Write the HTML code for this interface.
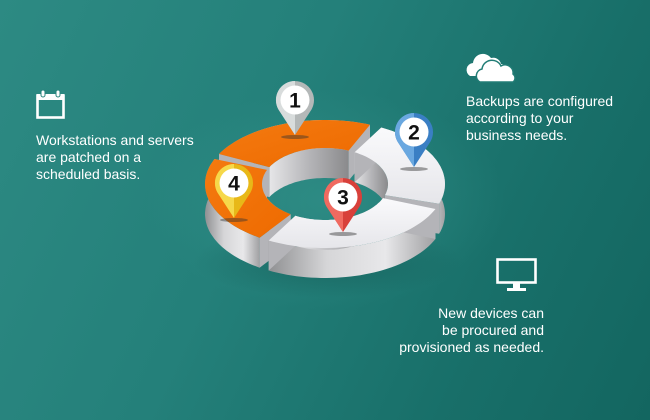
<!DOCTYPE html>
<html><head><meta charset="utf-8"><style>
html,body{margin:0;padding:0}
body{width:650px;height:420px;overflow:hidden;position:relative;font-family:"Liberation Sans",sans-serif;
background:linear-gradient(115deg,#2d8a83 0%,#24807a 40%,#186f69 75%,#136660 100%);}
.t{position:absolute;color:#fff;font-size:14px;line-height:17px;letter-spacing:0px}
svg{position:absolute;left:0;top:0}
</style></head><body>
<svg id="s" width="650" height="420" viewBox="0 0 650 420">
<defs>
<radialGradient id="glow" cx="0.5" cy="0.5" r="0.5"><stop offset="0" stop-color="#3a9a92" stop-opacity="0.5"/><stop offset="1" stop-color="#3a9a92" stop-opacity="0"/></radialGradient>
<radialGradient id="sh" cx="0.5" cy="0.5" r="0.5"><stop offset="0" stop-color="#0e4e4a" stop-opacity="0.5"/><stop offset="1" stop-color="#0e4e4a" stop-opacity="0"/></radialGradient>
<linearGradient id="wall" x1="0" y1="0" x2="1" y2="0"><stop offset="0" stop-color="#8f9092"/><stop offset="0.35" stop-color="#d6d6d8"/><stop offset="0.7" stop-color="#e8e8ea"/><stop offset="1" stop-color="#a0a0a2"/></linearGradient>
<linearGradient id="iwall" x1="0" y1="0" x2="1" y2="0"><stop offset="0" stop-color="#e6e6e8"/><stop offset="0.5" stop-color="#b5b5b8"/><stop offset="1" stop-color="#8a8a8c"/></linearGradient>
<linearGradient id="org" x1="0" y1="0" x2="1" y2="1"><stop offset="0" stop-color="#f47a10"/><stop offset="1" stop-color="#ee6a00"/></linearGradient>
<linearGradient id="wht" x1="0" y1="0" x2="0" y2="1"><stop offset="0" stop-color="#fafafc"/><stop offset="1" stop-color="#e6e6ea"/></linearGradient>
</defs>
<ellipse cx="325" cy="200" rx="180" ry="110" fill="url(#glow)"/>
<ellipse cx="328" cy="262" rx="135" ry="36" fill="url(#sh)"/>
<g id="ring"></g>
<g id="pins"></g>
<g fill="none" stroke="#fff" stroke-width="2.6">
<rect x="37.5" y="95.5" width="26" height="22"/>
</g>
<rect x="37" y="94" width="27" height="6" fill="#fff"/>
<rect x="41" y="90" width="4" height="7" rx="2" fill="#fff" stroke="#2a857e" stroke-width="1"/>
<rect x="56" y="90" width="4" height="7" rx="2" fill="#fff" stroke="#2a857e" stroke-width="1"/>
<path d="M470 76 a7 7 0 0 1 3-13 a10 10 0 0 1 18-5 a8 8 0 0 1 10 6 h0 a6 6 0 0 1 0 12 z" fill="#fff"/>
<path d="M480 82 a7 7 0 0 1 2-13 a10 10 0 0 1 19-3 a8 8 0 0 1 12 8 a5 5 0 0 1 0 8 z" fill="#fff" stroke="#227d76" stroke-width="1.5"/>
<rect x="497.5" y="259.5" width="38" height="23" fill="none" stroke="#fff" stroke-width="2.6"/>
<rect x="513" y="283" width="7" height="6" fill="#fff"/>
<rect x="507" y="288" width="19" height="3" fill="#fff"/>
</svg>
<div class="t" style="left:36px;top:132px">Workstations and servers<br>are patched on a<br>scheduled basis.</div>
<div class="t" style="left:466px;top:93px">Backups are configured<br>according to your<br>business needs.</div>
<div class="t" style="left:370px;width:174px;text-align:right;top:305px">New devices can<br>be procured and<br>provisioned as needed.</div>
<script>
var cx=325,cy=184,RX=120,RY=64,rx=63,ry=36,H=30;
function P(R1,R2,a,dy){a=a*Math.PI/180;return (cx+R1*Math.cos(a)).toFixed(1)+','+(cy+R2*Math.sin(a)+dy).toFixed(1);}
function arc(R1,R2,a1,a2,dy){var p=[],n=40;for(var i=0;i<=n;i++)p.push(P(R1,R2,a1+(a2-a1)*i/n,dy));return p;}
var g=document.getElementById('ring'),h='';
function poly(pts,fill,extra){h+='<polygon points="'+pts.join(' ')+'" fill="'+fill+'" '+(extra||'')+'/>';}
function seg(a1,a2,top){
 poly(arc(RX,RY,a1,a2,0).concat(arc(RX,RY,a2,a1,H)),'url(#wall)');
 poly(arc(rx,ry,a1,a2,0).concat(arc(rx,ry,a2,a1,H)),'url(#iwall)');
 [a1,a2].forEach(function(a){poly([P(RX,RY,a,0),P(rx,ry,a,0),P(rx,ry,a,H),P(RX,RY,a,H)],'#b4b4b8');});
 poly(arc(RX,RY,a1,a2,0).concat(arc(rx,ry,a2,a1,0)),top);
}
seg(208,292,'url(#org)');
seg(298,378,'url(#wht)');
seg(123,203,'url(#org)');
seg(23,118,'url(#wht)');
g.innerHTML=h;
var pins=[[295,100,'1','#b4b8b8','#d8dcdc'],[414,132,'2','#3a7fc4','#6aa8e0'],[343,197,'3','#d8403a','#f06a60'],[234,183,'4','#e8b818','#f6d84a']];
var ph='';
pins.forEach(function(p){var x=p[0],y=p[1],r=19;
 ph+='<ellipse cx="'+x+'" cy="'+(y+37)+'" rx="14" ry="2" fill="#333" opacity="0.45"/>';
 ph+='<path d="M'+(x-r*0.87)+' '+(y+r*0.5)+' A'+r+' '+r+' 0 1 1 '+(x+r*0.87)+' '+(y+r*0.5)+' L'+x+' '+(y+35)+' Z" fill="'+p[3]+'"/>';
 ph+='<path d="M'+x+' '+(y-r)+' A'+r+' '+r+' 0 0 0 '+(x-r*0.87)+' '+(y+r*0.5)+' L'+x+' '+(y+35)+' Z" fill="'+p[4]+'"/>';
 ph+='<circle cx="'+x+'" cy="'+y+'" r="14.5" fill="#fff"/>';
 ph+='<text x="'+x+'" y="'+(y+7.5)+'" text-anchor="middle" font-family="Liberation Sans, sans-serif" font-weight="bold" font-size="21" fill="#111">'+p[2]+'</text>';
});
document.getElementById('pins').innerHTML=ph;
</script>
</body></html>
